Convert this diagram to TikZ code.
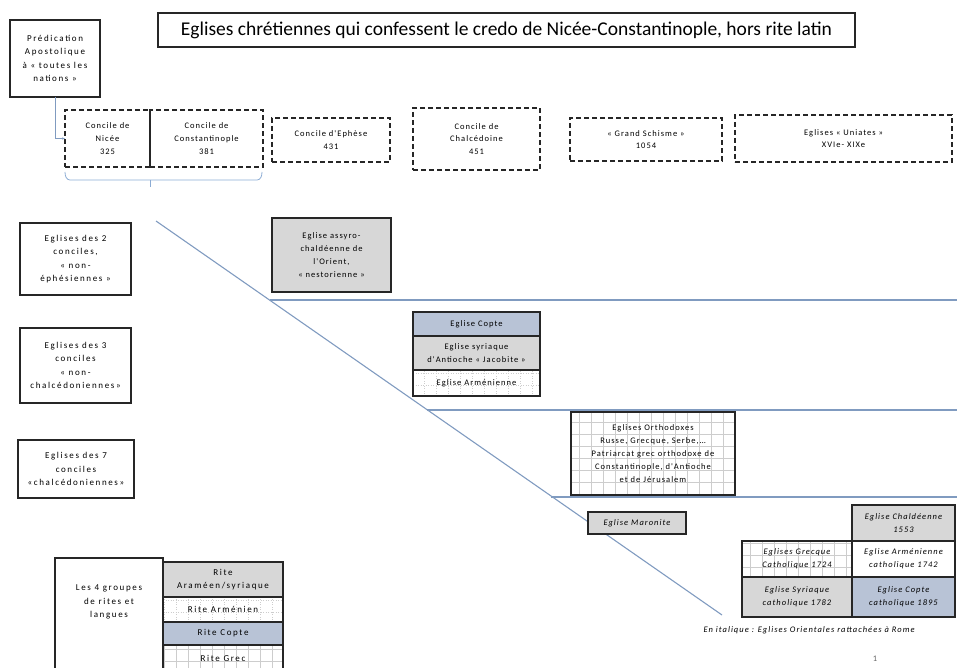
\documentclass[tikz,border=0pt]{standalone}
\usepackage{fontspec}
\setmainfont{Carlito}
\newfontfamily\spacedfont[LetterSpace=18]{Carlito}
\newfontfamily\tightfont[LetterSpace=12]{Carlito}
\usetikzlibrary{positioning,arrows.meta}
\definecolor{cellgray}{RGB}{215,215,215}
\definecolor{cellblue}{RGB}{184,195,214}
\definecolor{sepblue}{RGB}{128,155,192}
\definecolor{bracecol}{RGB}{140,172,212}
\definecolor{gridcol}{RGB}{205,205,205}
\tikzset{
  bigtxt/.style={font=\spacedfont\fontsize{9}{13.5}\selectfont},
  smalltxt/.style={font=\tightfont\fontsize{8.5}{12.8}\selectfont},
  italtxt/.style={font=\tightfont\itshape\fontsize{8.5}{12.8}\selectfont},
  box/.style={draw=black!85, line width=1.3pt, align=center, inner sep=0pt, outer sep=0pt},
  dashbox/.style={box, dash pattern=on 5pt off 3pt},
  frame/.style={draw=black!85, line width=1.3pt},
  gridcell/.style={fill=white, path picture={
      \draw[gridcol, line width=0.5pt, step=12pt]
        (path picture bounding box.south west) grid (path picture bounding box.north east);}},
  dotcell/.style={fill=white, path picture={
      \draw[gridcol, line width=0.5pt, dotted, step=12pt]
        (path picture bounding box.south west) grid (path picture bounding box.north east);}},
  sepline/.style={draw=sepblue, line width=1.1pt},
  bracket/.style={draw=bracecol, line width=0.8pt}
}
\begin{document}
\begin{tikzpicture}[x=1pt,y=-1pt]
\useasboundingbox (0,0) rectangle (961,668);

% separateurs
\draw[sepline] (156,221) -- (722,615);
\draw[sepline] (270,300) -- (957,300);
\draw[sepline] (427,410) -- (957,410);
\draw[sepline] (551,497) -- (957,497);

% titre et predication
\node[box, minimum width=697, minimum height=34, font=\fontsize{19.5}{23}\selectfont] (titre) at (506.5,30)
  {Eglises chrétiennes qui confessent le credo de Nicée-Constantinople, hors rite latin};
\node[box, bigtxt, minimum width=90, minimum height=77] (predic) at (55,58.5)
  {Prédication\\Apostolique\\à « toutes les\\nations »};

% conciles
\node[dashbox, smalltxt, minimum width=85, minimum height=57] (nicee) at (107.5,138.5) {Concile de\\Nicée\\325};
\node[dashbox, smalltxt, minimum width=113, minimum height=57] (constp) at (206.5,138.5) {Concile de\\Constantinople\\381};
\node[dashbox, smalltxt, minimum width=118, minimum height=44] (ephese) at (331,140) {Concile d'Ephèse\\431};
\node[dashbox, smalltxt, minimum width=127, minimum height=62] (chalced) at (476.5,139) {Concile de\\Chalcédoine\\451};
\node[dashbox, smalltxt, minimum width=152, minimum height=43] (schisme) at (646,139.5) {« Grand Schisme »\\1054};
\node[dashbox, smalltxt, minimum width=217, minimum height=47] (uniates) at (843.5,138.5) {Eglises « Uniates »\\XVIe- XIXe};

\draw[sepline, line width=0.8pt, -{Stealth[length=3pt]}] (predic.south) |- (nicee.west);
\draw[bracket] (65,172) to[out=-90,in=180] (70,180) -- (257,180) to[out=0,in=-90] (262,172);
\draw[bracket] (150,180) -- (150,187);

% familles
\node[box, bigtxt, minimum width=111, minimum height=72] (deux) at (75.5,259) {Eglises des 2\\conciles,\\« non-\\éphésiennes »};
\node[box, bigtxt, minimum width=111, minimum height=75] (trois) at (75.5,365.5) {Eglises des 3\\conciles\\« non-\\chalcédoniennes»};
\node[box, bigtxt, minimum width=116, minimum height=58] (sept) at (76,469) {Eglises des 7\\conciles\\«chalcédoniennes»};

\node[box, fill=cellgray, smalltxt, minimum width=119, minimum height=74] (assyro) at (331.5,255)
  {Eglise assyro-\\chaldéenne de\\l'Orient,\\« nestorienne »};

\node[box, fill=cellblue, smalltxt, minimum width=127, minimum height=24] (copte) at (476.5,324) {Eglise Copte};
\node[box, fill=cellgray, smalltxt, minimum width=127, minimum height=34, below=0pt of copte] (jacob) {Eglise syriaque\\d'Antioche « Jacobite »};
\node[box, dotcell, smalltxt, minimum width=127, minimum height=26, below=0pt of jacob] (armen) {Eglise Arménienne};

\node[box, gridcell, smalltxt, minimum width=164, minimum height=83] (ortho) at (653,453.5)
  {Eglises Orthodoxes\\Russe, Grecque, Serbe,…\\Patriarcat grec orthodoxe de\\Constantinople, d'Antioche\\et de Jérusalem};

% rattachees a Rome
\node[box, fill=cellgray, italtxt, minimum width=98, minimum height=22] (maron) at (637,523) {Eglise Maronite};
\node[box, gridcell, italtxt, minimum width=110, minimum height=36] (grecath) at (797,559) {Eglises Grecque\\Catholique 1724};
\node[box, fill=white, italtxt, minimum width=103, minimum height=36, right=0pt of grecath] (armcath) {Eglise Arménienne\\catholique 1742};
\node[box, fill=cellgray, italtxt, minimum width=103, minimum height=36, above=0pt of armcath] (chald) {Eglise Chaldéenne\\1553};
\node[box, fill=cellgray, italtxt, minimum width=110, minimum height=40, below=0pt of grecath] (syrcath) {Eglise Syriaque\\catholique 1782};
\node[box, fill=cellblue, italtxt, minimum width=103, minimum height=40, right=0pt of syrcath] (coptcath) {Eglise Copte\\catholique 1895};
\node[italtxt, anchor=west] (note) at (700,630) {En italique : Eglises Orientales rattachées à Rome};
\node[smalltxt, text=black!60] (page) at (875,659) {1};

% rites
\draw[frame] (55,675) |- (163,558) -- (163,675);
\node[bigtxt, align=center] (groupes) at (109,602) {Les 4 groupes\\de rites et\\langues};
\node[box, fill=cellgray, bigtxt, minimum width=120, minimum height=35] (aram) at (223,579.5) {Rite\\Araméen/syriaque};
\node[box, dotcell, bigtxt, minimum width=120, minimum height=25, below=0pt of aram] (armrite) {Rite Arménien};
\node[box, fill=cellblue, bigtxt, minimum width=120, minimum height=23, below=0pt of armrite] (copterite) {Rite Copte};
\node[box, gridcell, bigtxt, minimum width=120, minimum height=27, below=0pt of copterite] (grecrite) {Rite Grec};
\end{tikzpicture}
\end{document}
